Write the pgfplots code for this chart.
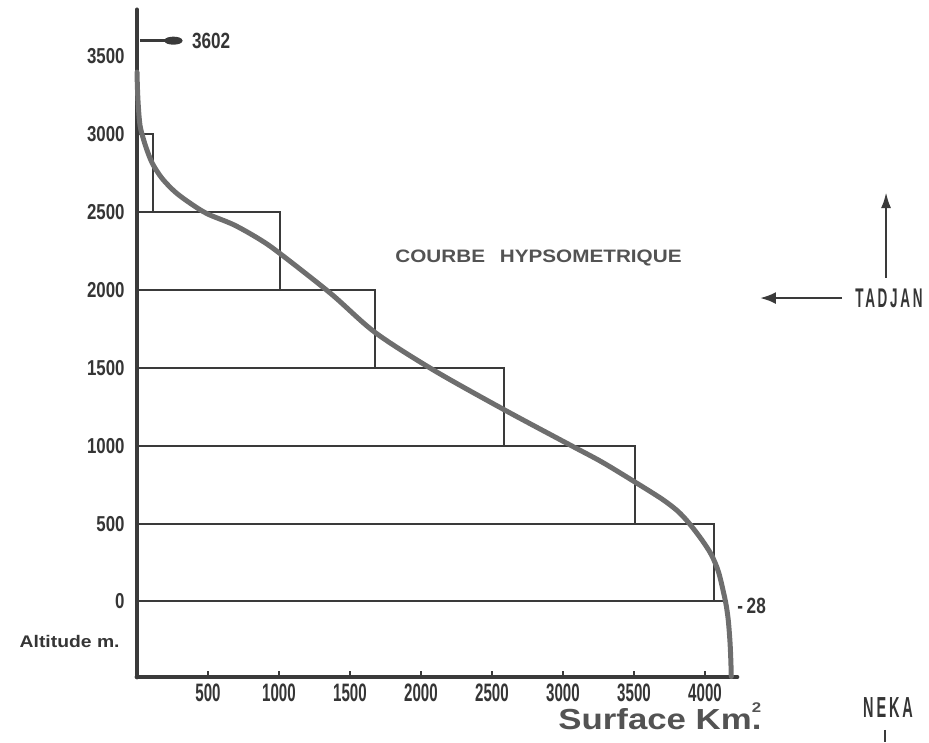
\documentclass[border=0pt]{standalone}
\usepackage{pgfplots}
\pgfplotsset{compat=1.18}
\usetikzlibrary{arrows.meta}
\usepackage{fontspec}
\setmainfont{Liberation Sans}
\newfontfamily\ycond[FakeStretch=0.78]{Liberation Sans Bold}
\newfontfamily\xcond[FakeStretch=0.6]{Liberation Sans Bold}
\newfontfamily\tcond[FakeStretch=0.5,LetterSpace=10]{Liberation Sans Bold}
\newfontfamily\widef[FakeStretch=1.15]{Liberation Sans Bold}
\newfontfamily\widerf[FakeStretch=1.2]{Liberation Sans Bold}
\definecolor{ink}{HTML}{3A3A3A}
\definecolor{curvec}{HTML}{6E6E6E}
\definecolor{txt}{HTML}{353535}
\begin{document}
\begin{tikzpicture}
\begin{axis}[
  x=0.071pt, y=0.07785pt,
  xmin=0, xmax=4225, ymin=-485, ymax=3800,
  axis lines*=left,
  axis line style={line width=2.4pt, ink, line cap=round},
  xtick={500,1000,1500,2000,2500,3000,3500,4000},
  xticklabels={500,1000,1500,2000,2500,3000,3500,4000},
  ytick={0,500,1000,1500,2000,2500,3000,3500},
  yticklabels={0,500,1000,1500,2000,2500,3000,3500},
  tick align=inside,
  xtick style={line width=1pt, ink},
  ytick style={draw=none},
  major tick length=3pt,
  x tick label style={font=\xcond\fontsize{12.6}{13}\selectfont, text=txt, inner sep=0pt, anchor=north, yshift=-3pt},
  y tick label style={font=\ycond\fontsize{10.8}{11}\selectfont, text=txt, inner sep=0pt, anchor=east, xshift=-6pt},
  clip=false,
]
% hypsometric bands (area per 500 m altitude class)
\addplot[ink, line width=1pt] coordinates {(0,3000) (113,3000) (113,2500)};
\addplot[ink, line width=1pt] coordinates {(0,2500) (1005,2500) (1005,2000)};
\addplot[ink, line width=1pt] coordinates {(0,2000) (1675,2000) (1675,1500)};
\addplot[ink, line width=1pt] coordinates {(0,1500) (2582,1500) (2582,1000)};
\addplot[ink, line width=1pt] coordinates {(0,1000) (3508,1000) (3508,500)};
\addplot[ink, line width=1pt] coordinates {(0,500) (4065,500) (4065,0)};
\addplot[ink, line width=1pt] coordinates {(0,0) (4150,0)};
% hypsometric curve
\addplot[curvec, line width=2.5pt, smooth, tension=0.5, line cap=round] coordinates {
(0,3400) (3,3300) (8,3200) (17,3090) (28,3027) (62,2921) (108,2814) (177,2717)
(270,2629) (381,2554) (497,2489) (685,2418) (871,2322) (1011,2232) (1367,1976)
(1678,1727) (2087,1487) (2577,1236) (3046,1007) (3272,897) (3509,766) (3697,658)
(3806,582) (3885,506) (3976,398) (4045,300) (4095,190) (4135,40) (4152,-40)
(4165,-130) (4176,-260) (4182,-380) (4185,-482)};
% max altitude pointer
\addplot[ink, line width=1.2pt, -{Ellipse[length=9pt,width=4pt]}] coordinates {(20,3602) (320,3602)};
\node[anchor=west, font=\ycond\fontsize{11}{12}\selectfont, text=txt, inner sep=0pt] at (axis cs:385,3602) {3602};
\node[anchor=west, font=\ycond\fontsize{11}{12}\selectfont, text=txt, inner sep=0pt] at (axis cs:4225,-30) {-\,28};
\node[anchor=east, font=\widef\fontsize{8.4}{9}\selectfont, text=txt, inner sep=0pt] at (axis cs:-120,-254) {Altitude m.};
\node[anchor=west, font=\widerf\fontsize{14.5}{15}\selectfont, text=txt!85, inner sep=0pt] at (axis cs:2965,-735) {Surface Km\rlap{\raisebox{1.1ex}{\fontsize{7}{7}\selectfont 2}}.};
\node[anchor=west, font=\widef\fontsize{9}{10}\selectfont, text=txt!85, inner sep=0pt] at (axis cs:1817,2206) {COURBE\hspace{0.5em} HYPSOMETRIQUE};
% TADJAN / NEKA annotations
\draw[ink, line width=1.3pt, -{Latex[length=8pt,width=6pt]}] (axis cs:4965,1949) -- (axis cs:4387,1949);
\draw[ink, line width=1.3pt, -{Latex[length=8pt,width=5pt]}] (axis cs:5275,2078) -- (axis cs:5275,2630);
\node[anchor=west, font=\tcond\fontsize{13.5}{14}\selectfont, text=txt, inner sep=0pt] at (axis cs:5056,1950) {TADJAN};
\node[font=\tcond\fontsize{14.5}{15}\selectfont, text=txt, inner sep=0pt] at (axis cs:5289,-678) {NEKA};
\draw[ink, line width=1.2pt] (axis cs:5268,-825) -- (axis cs:5268,-905);
\coordinate (bbl) at (axis cs:-964.8,-902.4);
\coordinate (btr) at (axis cs:5577.5,3863.2);
\end{axis}
\pgfresetboundingbox
\path[use as bounding box] (bbl) rectangle (btr);
\end{tikzpicture}
\end{document}
